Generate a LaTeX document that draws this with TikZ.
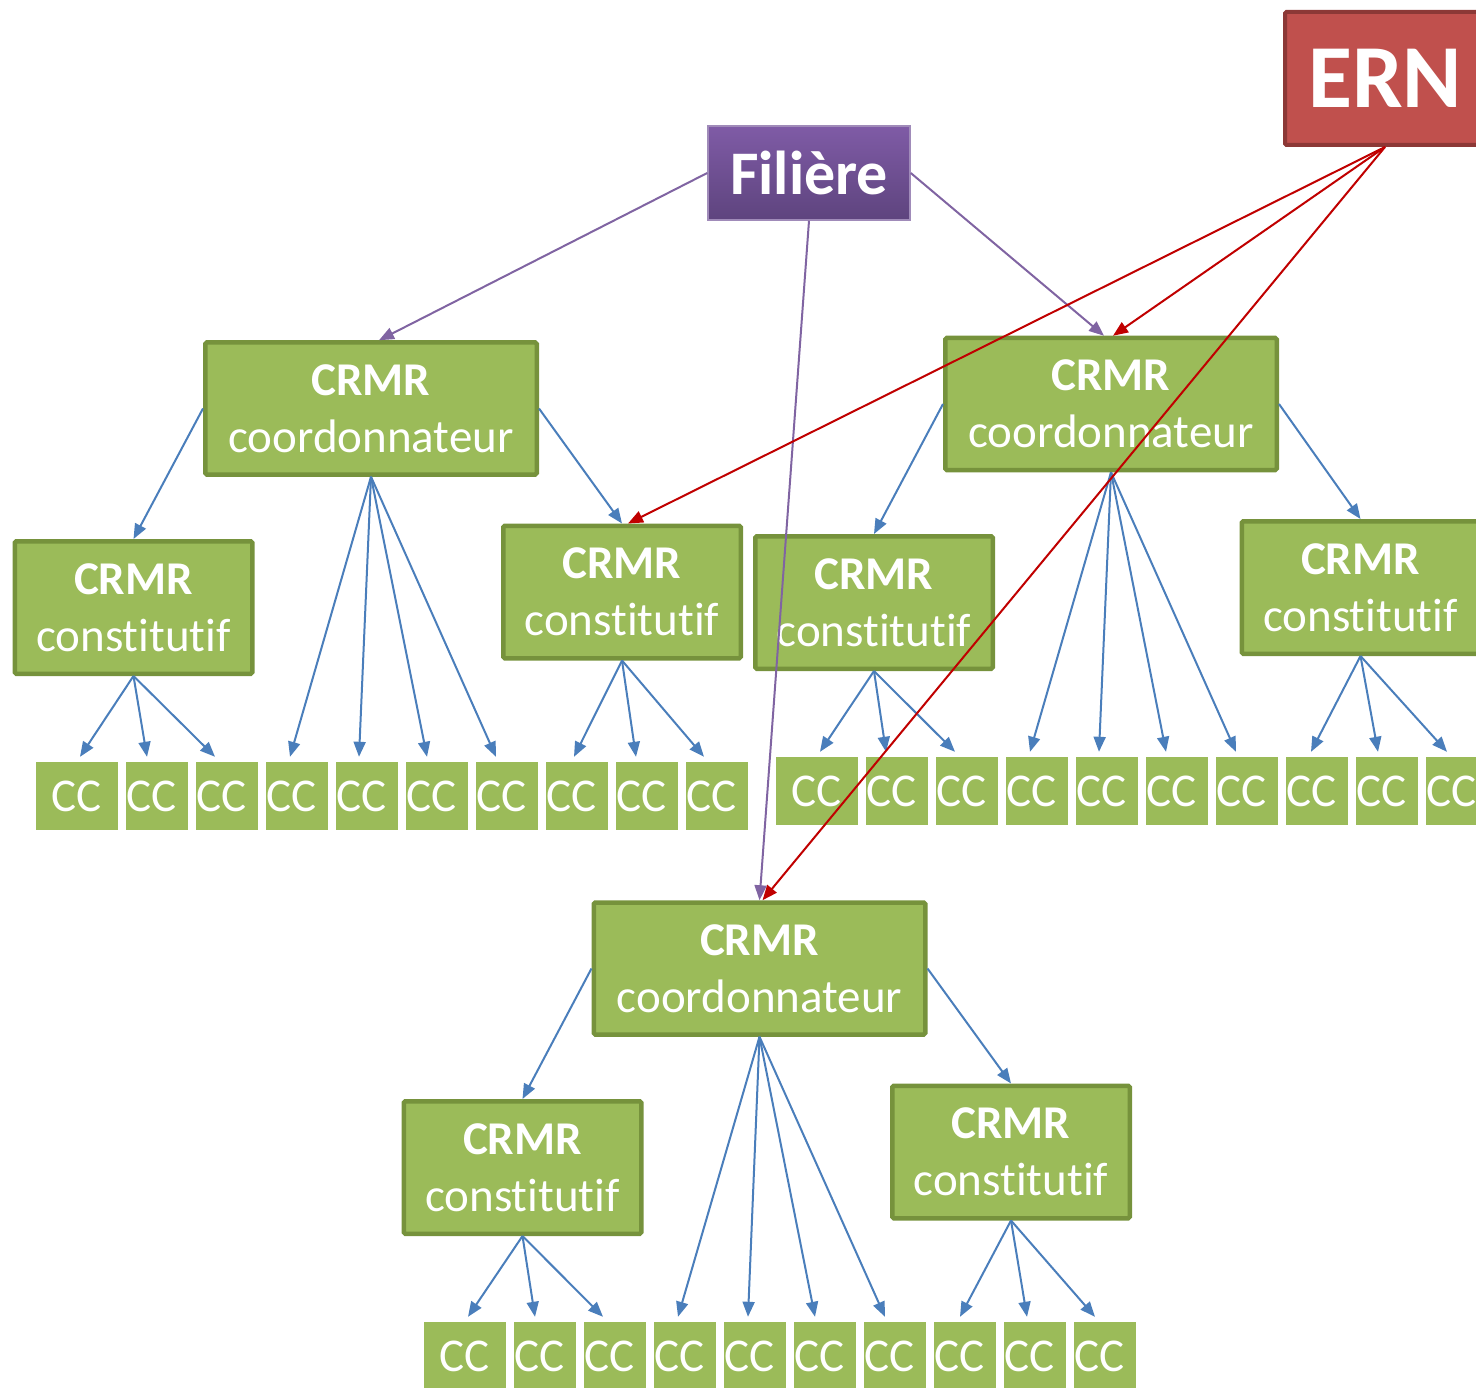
\documentclass[tikz,border=0pt]{standalone}
\usepackage{fontspec}
\setmainfont[Ligatures=NoCommon]{Carlito}
\usetikzlibrary{arrows.meta}

\definecolor{vert}{HTML}{9BBB59}
\definecolor{vertfonce}{HTML}{76923C}
\definecolor{bleu}{HTML}{4A7EBB}
\definecolor{mauve}{HTML}{8064A2}
\definecolor{mauvehaut}{HTML}{7F5BA6}
\definecolor{mauvebas}{HTML}{5E447E}
\definecolor{rougeern}{HTML}{C0504D}
\definecolor{rougefonce}{HTML}{8C3836}
\definecolor{rougelien}{HTML}{C00000}

\begin{document}
\begin{tikzpicture}[x=1pt, y=-1pt,
    crmr/.style={draw=vertfonce, fill=vert, line width=4.5pt, rounded corners=1.5pt,
        text=white, align=center, inner sep=0pt, font=\fontsize{47}{57}\selectfont},
    coord/.style={crmr, minimum width=331.5pt, minimum height=132pt},
    constit/.style={crmr, minimum width=237.5pt, minimum height=132.5pt},
    cc/.style={fill=vert, text=white, inner sep=0pt, text width=62pt, align=left,
        minimum height=68pt, font=\fontsize{47}{57}\selectfont},
    cclarge/.style={fill=vert, text=white, inner sep=0pt, minimum width=82pt,
        minimum height=68pt, font=\fontsize{47}{57}\selectfont},
    lienbleu/.style={draw=bleu, line width=2pt, -{Triangle[length=15pt,width=12pt]}},
    lienmauve/.style={draw=mauve, line width=2pt, -{Triangle[length=15pt,width=12pt]}},
    lienrouge/.style={draw=rougelien, line width=2pt, -{Triangle[length=15pt,width=12pt]}}]

    \useasboundingbox (0,0) rectangle (1476,1388);

    % tetes
    \node[draw=rougefonce, fill=rougeern, line width=4pt, rounded corners=1.5pt,
        minimum width=200pt, minimum height=133pt, text=white,
        font=\fontsize{90}{100}\selectfont\bfseries] (ern) at (1385,78.5) {ERN};
    \node[draw=mauve!75!white, top color=mauvehaut, bottom color=mauvebas, line width=1.5pt,
        minimum width=202pt, minimum height=94pt, text=white,
        font=\fontsize{62}{70}\selectfont\bfseries] (filiere) at (809,173) {Filière};

    % CRMR
    \node[coord] (coordG) at (371,408.5) {\textbf{CRMR}\\coordonnateur};
    \node[coord] (coordD) at (1111,404) {\textbf{CRMR}\\coordonnateur};
    \node[coord] (coordB) at (759.5,968.5) {\textbf{CRMR}\\coordonnateur};

    \node[constit] (constA) at (133.5,607.5) {\textbf{CRMR}\\constitutif};
    \node[constit] (constB) at (622,592) {\textbf{CRMR}\\constitutif};
    \node[constit] (constC) at (874,602.5) {\textbf{CRMR}\\constitutif};
    \node[constit] (constD) at (1360.5,587.5) {\textbf{CRMR}\\constitutif};
    \node[constit] (constE) at (522.5,1167.5) {\textbf{CRMR}\\constitutif};
    \node[constit] (constF) at (1011,1152) {\textbf{CRMR}\\constitutif};

    % CC
    \node[cclarge] (ccg1) at (77,796) {CC};
    \node[cclarge] (ccd1) at (817,791) {CC};
    \node[cclarge] (ccb1) at (465,1356) {CC};
    \foreach \i in {2,...,10} {
        \node[cc] (ccg\i) at ({17+70*\i},796) {CC};
        \node[cc] (ccd\i) at ({757+70*\i},791) {CC};
        \node[cc] (ccb\i) at ({405+70*\i},1356) {CC};
    }

    % liens bleus
    \draw[lienbleu] (coordG.west) -- (constA.north);
    \draw[lienbleu] (coordG.east) -- (constB.north);
    \draw[lienbleu] (coordD.west) -- (constC.north);
    \draw[lienbleu] (coordD.east) -- (constD.north);
    \draw[lienbleu] (coordB.west) -- (constE.north);
    \draw[lienbleu] (coordB.east) -- (constF.north);

    \foreach \src/\dst/\dx in {constA/ccg1/3, constA/ccg2/-10, constA/ccg3/-12,
            coordG/ccg4/-7, coordG/ccg5/-8, coordG/ccg6/-10, coordG/ccg7/-11,
            constB/ccg8/-3, constB/ccg9/-11, constB/ccg10/-13,
            constC/ccd1/3, constC/ccd2/-11, constC/ccd3/-12,
            coordD/ccd4/-7, coordD/ccd5/-8, coordD/ccd6/-11, coordD/ccd7/-11,
            constD/ccd8/-6, constD/ccd9/-9, constD/ccd10/-10,
            constE/ccb1/3, constE/ccb2/-10, constE/ccb3/-12,
            coordB/ccb4/-7, coordB/ccb5/-7, coordB/ccb6/-10, coordB/ccb7/-10,
            constF/ccb8/-5, constF/ccb9/-8, constF/ccb10/-10}
        \draw[lienbleu] (\src.south) -- ([xshift=\dx pt, yshift=5pt]\dst.north);

    % filiere et ERN par dessus
    \draw[lienmauve] (filiere.west) -- ([xshift=8pt]coordG.north);
    \draw[lienmauve] (filiere.east) -- ([xshift=-7pt]coordD.north);
    \draw[lienmauve] (filiere.south) -- (coordB.north);

    \draw[lienrouge] (ern.south) -- ([xshift=2pt]coordD.north);
    \draw[lienrouge] (ern.south) -- ([xshift=6pt]constB.north);
    \draw[lienrouge] (ern.south) -- ([xshift=3pt]coordB.north);
\end{tikzpicture}
\end{document}
